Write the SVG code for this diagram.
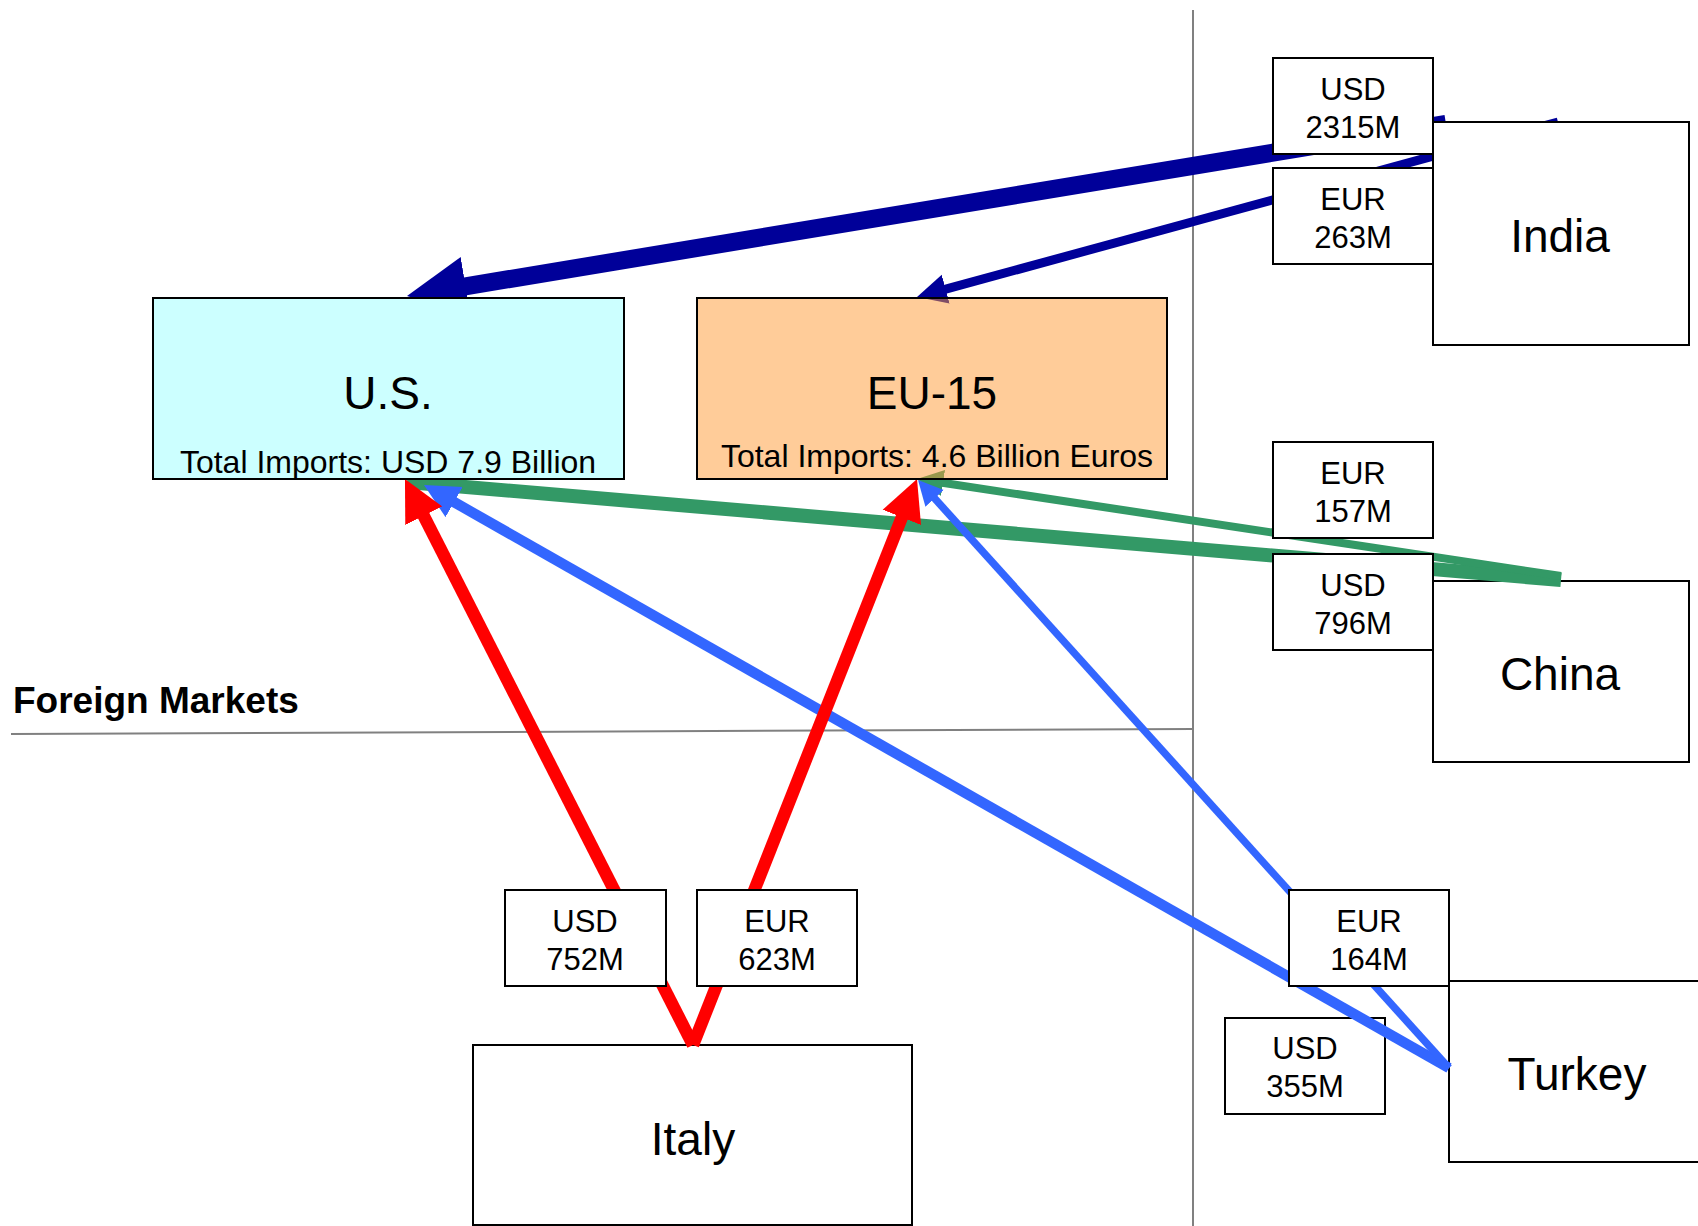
<svg xmlns="http://www.w3.org/2000/svg" width="1698" height="1226" viewBox="0 0 1698 1226">
  <style>
    .txt { font-family: "Liberation Sans", Arial, sans-serif; fill: #000; text-anchor: middle; }
    .title { font-size: 46px; }
    .sub { font-size: 32px; }
    .lbl { font-size: 31px; }
    .box { fill: #fff; stroke: #000; stroke-width: 2; }
    .divider { stroke: #808080; stroke-width: 2; fill: none; }
    .flow { fill: none; stroke-linecap: butt; }
  </style>
  <defs>
    <marker id="head-navy" viewBox="-0.1 -1.7 3.3 3.4" refX="0" refY="0" markerWidth="3.3" markerHeight="3.4" orient="auto" markerUnits="strokeWidth">
      <path d="M-0.1,-1.65 L3.2,0 L-0.1,1.65 z" fill="#000099"/>
    </marker>
    <marker id="head-green" viewBox="-0.1 -1.7 3.3 3.4" refX="0" refY="0" markerWidth="3.3" markerHeight="3.4" orient="auto" markerUnits="strokeWidth">
      <path d="M-0.1,-1.65 L3.2,0 L-0.1,1.65 z" fill="#339966"/>
    </marker>
    <marker id="head-red" viewBox="-0.1 -1.7 3.3 3.4" refX="0" refY="0" markerWidth="3.3" markerHeight="3.4" orient="auto" markerUnits="strokeWidth">
      <path d="M-0.1,-1.65 L3.2,0 L-0.1,1.65 z" fill="#FF0000"/>
    </marker>
    <marker id="head-blue" viewBox="-0.1 -1.7 3.3 3.4" refX="0" refY="0" markerWidth="3.3" markerHeight="3.4" orient="auto" markerUnits="strokeWidth">
      <path d="M-0.1,-1.65 L3.2,0 L-0.1,1.65 z" fill="#3366FF"/>
    </marker>
  </defs>

  <rect x="0" y="0" width="1698" height="1226" fill="#fff"/>

  <!-- market dividers -->
  <g id="dividers">
    <line class="divider" x1="1193" y1="10" x2="1193" y2="1226"/>
    <line class="divider" x1="11" y1="734" x2="1193" y2="729"/>
    <text x="13" y="713" font-family="'Liberation Sans', Arial, sans-serif" font-size="37" font-weight="bold">Foreign Markets</text>
  </g>

  <!-- exporting countries sitting under the flows -->
  <g id="china">
    <rect class="box" x="1433" y="581" width="256" height="181"/>
    <text class="txt title" x="1560" y="690">China</text>
  </g>
  <g id="turkey">
    <rect class="box" x="1449" y="981" width="256" height="181"/>
    <text class="txt title" x="1577" y="1090">Turkey</text>
  </g>
  <g id="italy">
    <rect class="box" x="473" y="1045" width="439" height="180"/>
    <text class="txt title" x="693" y="1155">Italy</text>
  </g>
  <g id="lbl-turkey-usd">
    <rect class="box" x="1225" y="1018" width="160" height="96"/>
    <text class="txt lbl" x="1305" y="1059">USD</text>
    <text class="txt lbl" x="1305" y="1097">355M</text>
  </g>

  <!-- import flows -->
  <g id="connectors">
    <path class="flow" d="M1561,580 L407,482" stroke="#339966" stroke-width="14"/>
    <path class="flow" d="M1561,576 L942.3,482.8" stroke="#339966" stroke-width="8" marker-end="url(#head-green)"/>
    <path class="flow" d="M1446,124 L463.8,286.6" stroke="#000099" stroke-width="18" marker-end="url(#head-navy)"/>
    <path class="flow" d="M1558,122 L944.8,289.4" stroke="#000099" stroke-width="9" marker-end="url(#head-navy)"/>
    <path class="flow" d="M1449,1068 L453.2,501.6" stroke="#3366FF" stroke-width="10.5" marker-end="url(#head-blue)"/>
    <path class="flow" d="M1449,1068 L934.1,497.8" stroke="#3366FF" stroke-width="7.5" marker-end="url(#head-blue)"/>
    <path class="flow" d="M693,1045 L423.1,514.6" stroke="#FF0000" stroke-width="12.5" marker-end="url(#head-red)"/>
    <path class="flow" d="M693,1045 L902.3,516.2" stroke="#FF0000" stroke-width="12.5" marker-end="url(#head-red)"/>
  </g>

  <!-- importing markets -->
  <g id="us">
    <rect x="153" y="298" width="471" height="181" fill="#CCFFFF" stroke="#000" stroke-width="2"/>
    <text class="txt title" x="388" y="409">U.S.</text>
    <text class="txt sub" x="388" y="473">Total Imports: USD 7.9 Billion</text>
  </g>
  <g id="eu15">
    <rect x="697" y="298" width="470" height="181" fill="#FF9933" fill-opacity="0.5" stroke="#000" stroke-width="2"/>
    <text class="txt title" x="932" y="409">EU-15</text>
    <text class="txt sub" x="937" y="467">Total Imports: 4.6 Billion Euros</text>
  </g>
  <g id="india">
    <rect class="box" x="1433" y="122" width="256" height="223"/>
    <text class="txt title" x="1560" y="252">India</text>
  </g>

  <!-- flow value labels -->
  <g id="lbl-india-usd">
    <rect class="box" x="1273" y="58" width="160" height="96"/>
    <text class="txt lbl" x="1353" y="100">USD</text>
    <text class="txt lbl" x="1353" y="138">2315M</text>
  </g>
  <g id="lbl-india-eur">
    <rect class="box" x="1273" y="168" width="160" height="96"/>
    <text class="txt lbl" x="1353" y="210">EUR</text>
    <text class="txt lbl" x="1353" y="248">263M</text>
  </g>
  <g id="lbl-china-eur">
    <rect class="box" x="1273" y="442" width="160" height="96"/>
    <text class="txt lbl" x="1353" y="484">EUR</text>
    <text class="txt lbl" x="1353" y="522">157M</text>
  </g>
  <g id="lbl-china-usd">
    <rect class="box" x="1273" y="554" width="160" height="96"/>
    <text class="txt lbl" x="1353" y="596">USD</text>
    <text class="txt lbl" x="1353" y="634">796M</text>
  </g>
  <g id="lbl-italy-usd">
    <rect class="box" x="505" y="890" width="161" height="96"/>
    <text class="txt lbl" x="585" y="932">USD</text>
    <text class="txt lbl" x="585" y="970">752M</text>
  </g>
  <g id="lbl-italy-eur">
    <rect class="box" x="697" y="890" width="160" height="96"/>
    <text class="txt lbl" x="777" y="932">EUR</text>
    <text class="txt lbl" x="777" y="970">623M</text>
  </g>
  <g id="lbl-turkey-eur">
    <rect class="box" x="1289" y="890" width="160" height="96"/>
    <text class="txt lbl" x="1369" y="932">EUR</text>
    <text class="txt lbl" x="1369" y="970">164M</text>
  </g>
</svg>
